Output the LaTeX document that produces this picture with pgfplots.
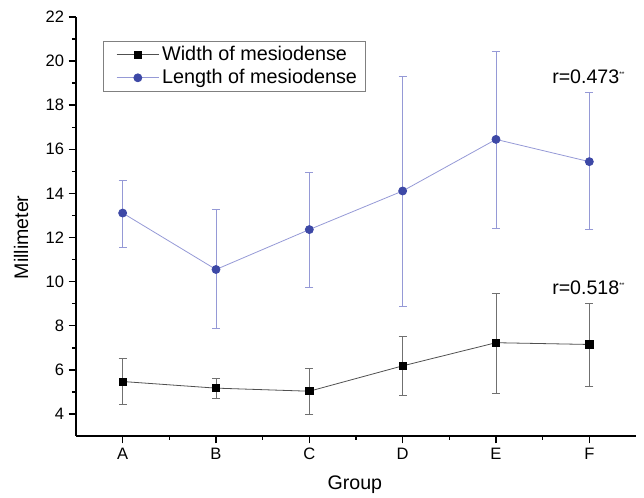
\documentclass[border=0pt]{standalone}
\usepackage{fontspec}
\setmainfont{Liberation Sans}
\usepackage{pgfplots}
\pgfplotsset{compat=1.18}
\definecolor{lenline}{HTML}{9599D6}
\definecolor{lenmark}{HTML}{3D48A6}
\definecolor{widline}{HTML}{505050}
\definecolor{widerr}{HTML}{707070}

\begin{document}
\begin{tikzpicture}
\useasboundingbox (0,0) rectangle (483pt,373.5pt);
\begin{axis}[
  at={(57pt,46.5pt)}, anchor=south west,
  scale only axis, width=420pt, height=314.25pt,
  xmin=0.5, xmax=6.5, ymin=3, ymax=22,
  axis lines*=left,
  axis line style={line width=1.2pt},
  tick align=outside,
  major tick length=5.5pt, minor tick length=3pt,
  every tick/.style={black, line width=1.1pt},
  xtick={1,...,6}, xticklabels={A,B,C,D,E,F},
  minor x tick num=1,
  ytick={4,6,...,22}, minor y tick num=1,
  tick label style={font=\fontsize{12.4}{14}\selectfont},
  /pgf/number format/assume math mode=true,
  xlabel={Group}, ylabel={Millimeter},
  label style={font=\fontsize{14.7}{17}\selectfont},
  xlabel style={at={(axis description cs:0.498,-0.117)}, anchor=center},
  ylabel style={at={(axis description cs:-0.098,0.474)}, anchor=center},
  legend style={at={(axis description cs:0.048,0.943)}, anchor=north west,
    draw=gray, line width=0.6pt, font=\fontsize{14.85}{16}\selectfont,
    inner xsep=4pt, inner ysep=2pt, row sep=1pt},
  legend cell align=left,
  legend image code/.code={%
    \path (0cm,0cm);
    \draw[mark repeat=2, mark phase=2, mark size=2.3pt] plot coordinates {(0.2cm,0cm) (0.76cm,0cm) (1.32cm,0cm)};},
]
\addplot[color=widline, line width=0.6pt, mark=square*,
  mark options={fill=black, draw=black, mark size=2.7pt},
  error bars/.cd, y dir=both, y explicit,
  error bar style={color=widerr, line width=0.6pt},
  error mark options={rotate=90, mark size=3pt, color=widerr, line width=0.6pt}]
coordinates {
  (1,5.47) += (0,1.04) -= (0,1.05)
  (2,5.17) += (0,0.43) -= (0,0.47)
  (3,5.03) += (0,1.05) -= (0,1.06)
  (4,6.18) += (0,1.33) -= (0,1.36)
  (5,7.23) += (0,2.22) -= (0,2.29)
  (6,7.15) += (0,1.85) -= (0,1.88)
};
\addlegendentry{Width of mesiodense}
\addplot[color=lenline, line width=0.6pt, mark=*,
  mark options={fill=lenmark, draw=lenmark, mark size=3pt},
  error bars/.cd, y dir=both, y explicit,
  error bar style={color=lenline, line width=0.6pt},
  error mark options={rotate=90, mark size=3pt, color=lenline, line width=0.6pt}]
coordinates {
  (1,13.11) += (0,1.47) -= (0,1.55)
  (2,10.55) += (0,2.71) -= (0,2.65)
  (3,12.36) += (0,2.58) -= (0,2.62)
  (4,14.11) += (0,5.18) -= (0,5.23)
  (5,16.45) += (0,4.00) -= (0,4.03)
  (6,15.44) += (0,3.12) -= (0,3.09)
};
\addlegendentry{Length of mesiodense}
\node[anchor=west, inner sep=0pt, font=\fontsize{14.7}{17}\selectfont]
  at (axis cs:5.6,19.27) {r=0.473\textsuperscript{\tiny **}};
\node[anchor=west, inner sep=0pt, font=\fontsize{14.7}{17}\selectfont]
  at (axis cs:5.6,9.73) {r=0.518\textsuperscript{\tiny **}};
\end{axis}
\end{tikzpicture}
\end{document}
